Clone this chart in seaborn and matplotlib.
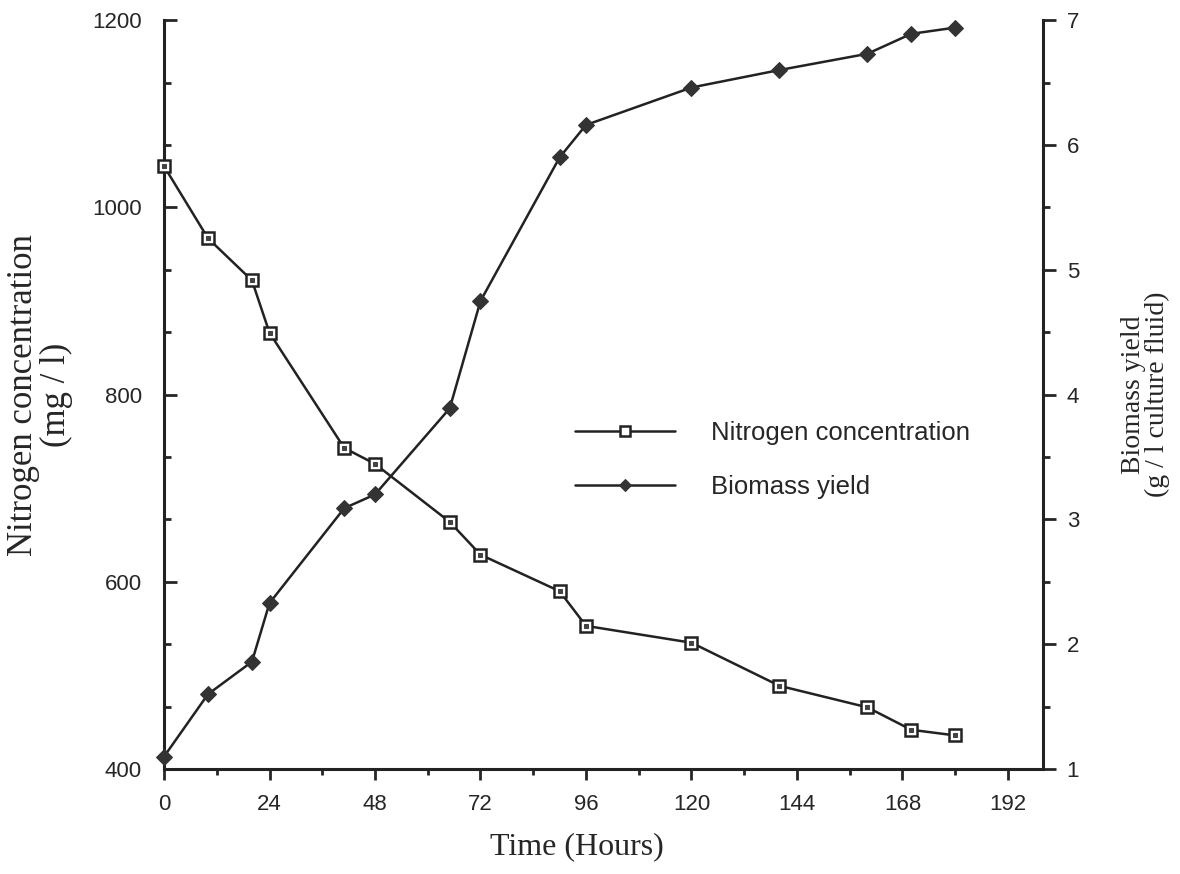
import numpy as np
import pandas as pd
import seaborn as sns
import matplotlib
matplotlib.use('Agg')
import matplotlib.pyplot as plt
from matplotlib.ticker import MultipleLocator

# data
hours = [0, 10, 20, 24, 41, 48, 65, 72, 90, 96, 120, 140, 160, 170, 180]
nitrogen = [1044, 967, 922, 866, 743, 726, 664, 629, 590, 553, 535, 489, 466, 442, 436]
biomass = [1.10, 1.60, 1.86, 2.33, 3.09, 3.20, 3.89, 4.75, 5.90, 6.16, 6.46, 6.60, 6.73, 6.89, 6.94]
x_ticks = [0, 24, 48, 72, 96, 120, 144, 168, 192]

df = pd.DataFrame({'hours': hours, 'nitrogen': nitrogen, 'biomass': biomass})

sns.set_style('white')
plt.rcParams['font.family'] = ['Liberation Sans', 'DejaVu Sans']

fig, ax = plt.subplots(figsize=(11.8, 8.74), dpi=100)
fig.subplots_adjust(left=0.139, right=0.884, bottom=0.12, top=0.977)
ax2 = ax.twinx()

sns.lineplot(data=df, x='hours', y='nitrogen', ax=ax, color='#222222', lw=1.8,
             marker='s', markersize=9, markerfacecolor='white',
             markeredgecolor='#222222', markeredgewidth=1.8,
             estimator=None, sort=False, clip_on=False, zorder=3)
# little dot inside each square
sns.lineplot(data=df, x='hours', y='nitrogen', ax=ax, color='#222222', lw=0,
             marker='s', markersize=2.5, markerfacecolor='#444444',
             markeredgecolor='#444444', estimator=None, sort=False,
             clip_on=False, zorder=4)
sns.lineplot(data=df, x='hours', y='biomass', ax=ax2, color='#222222', lw=1.8,
             marker='D', markersize=8, markerfacecolor='#333333',
             markeredgecolor='#333333', estimator=None, sort=False,
             clip_on=False, zorder=3)

ax.set_xlim(0, 200)
ax.set_ylim(400, 1200)
ax2.set_ylim(1, 7)

ax.set_xticks(x_ticks)
ax.xaxis.set_minor_locator(MultipleLocator(12))
ax.yaxis.set_major_locator(MultipleLocator(200))
ax.yaxis.set_minor_locator(MultipleLocator(200 / 3))
ax2.yaxis.set_major_locator(MultipleLocator(1))
ax2.yaxis.set_minor_locator(MultipleLocator(0.5))

for a in (ax, ax2):
    a.spines['top'].set_visible(False)
    for s in a.spines.values():
        s.set_linewidth(2.2)
        s.set_color('#222222')
ax.spines['right'].set_visible(False)
ax2.spines['left'].set_visible(False)
ax2.spines['bottom'].set_visible(False)

ax.tick_params(axis='x', which='major', direction='out', length=8, width=2,
               labelsize=16, pad=10, bottom=True)
ax.tick_params(axis='x', which='minor', direction='out', length=4, width=2, bottom=True)
ax.tick_params(axis='y', which='major', direction='in', length=9, width=2,
               labelsize=16, pad=16, left=True)
ax.tick_params(axis='y', which='minor', direction='in', length=5, width=2, left=True)
ax2.tick_params(axis='y', which='major', direction='out', length=9, width=2,
                labelsize=16, pad=8, right=True)
ax2.tick_params(axis='y', which='minor', direction='out', length=5, width=2, right=True)

serif = ['Liberation Serif', 'DejaVu Serif']
ax.set_xlabel('Time (Hours)', family=serif, fontsize=23, labelpad=12)
ax.xaxis.label.set_x(0.47)
ax.set_ylabel('Nitrogen concentration\n(mg / l)', family=serif, fontsize=25,
              linespacing=1.0, labelpad=14)
ax2.set_ylabel('Biomass yield\n(g / l culture fluid)', family=serif, fontsize=20,
               linespacing=0.95, rotation=90, labelpad=30)
ax.grid(False)
ax2.grid(False)

h1 = ax.get_lines()[0]
h2 = ax2.get_lines()[0]
leg = fig.legend([h1, h2], ['Nitrogen concentration', 'Biomass yield'],
                 loc='center left', bbox_to_anchor=(575 / 1180, 1 - 460 / 874),
                 frameon=False, fontsize=18.5, handlelength=3.9, handletextpad=1.4,
                 labelspacing=1.15, borderpad=0, borderaxespad=0, markerscale=0.8)

fig.savefig('out.png', dpi=100)
